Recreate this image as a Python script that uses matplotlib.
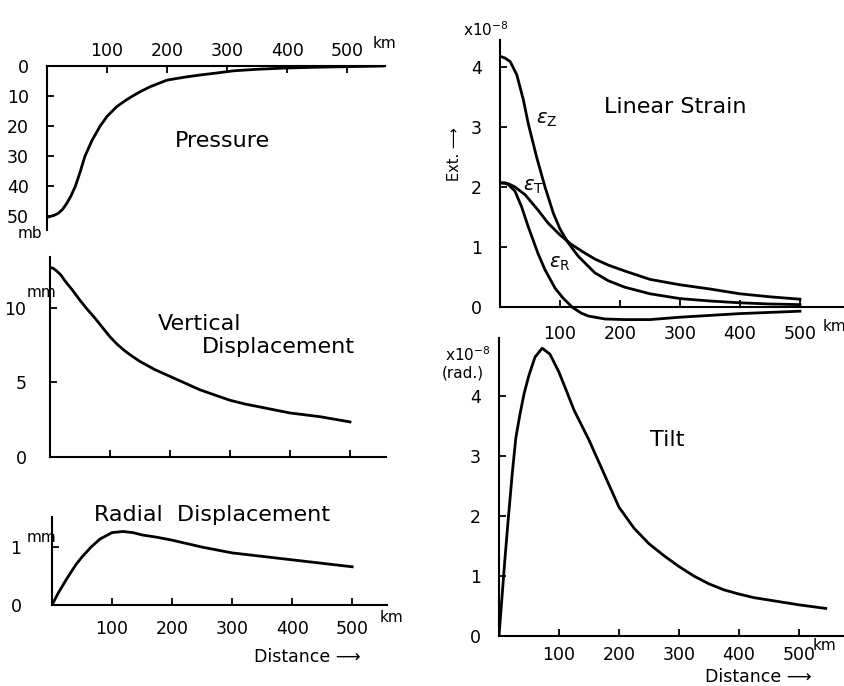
import numpy as np
import matplotlib
matplotlib.use('Agg')
import matplotlib.pyplot as plt

# ==========================================
# 1. DATA
# ==========================================
# Pressure (mb) vs distance (km)
p_km = [0, 5, 12, 19, 26, 33, 40, 47, 55, 63, 75, 88, 100, 116, 130, 141, 155,
        172, 200, 230, 255, 280, 311, 350, 394, 440, 477, 520, 560]
p_mb = [50.5, 50.2, 49.8, 49.1, 47.8, 45.8, 43.3, 40.2, 35.5, 30.2, 24.8, 20.2,
        16.8, 13.6, 11.6, 10.2, 8.6, 6.9, 4.7, 3.7, 3.0, 2.4, 1.6, 1.1, 0.7,
        0.45, 0.3, 0.15, 0.0]

# Vertical displacement (mm)
v_km = [0, 5, 10, 18, 25, 37, 50, 62, 75, 88, 100, 112, 125, 137, 150, 175, 200,
        225, 250, 275, 300, 325, 350, 375, 400, 450, 500]
v_mm = [12.7, 12.65, 12.5, 12.2, 11.8, 11.2, 10.5, 9.9, 9.3, 8.65, 8.05, 7.55,
        7.1, 6.75, 6.4, 5.85, 5.4, 4.95, 4.5, 4.15, 3.8, 3.55, 3.35, 3.15, 2.95,
        2.7, 2.35]

# Radial displacement (mm)
r_km = [0, 5, 10, 25, 40, 50, 65, 80, 100, 118, 135, 150, 175, 200, 250, 300,
        350, 400, 450, 500]
r_mm = [0, 0.1, 0.2, 0.46, 0.7, 0.83, 1.0, 1.14, 1.25, 1.27, 1.25, 1.21, 1.17,
        1.12, 1.0, 0.9, 0.84, 0.78, 0.72, 0.66]

# Linear strain (x1e-8)
ez_km = [0, 8, 17, 28, 39, 47, 61, 75, 89, 100, 113, 130, 158, 180, 208, 250,
         300, 350, 400, 450, 500]
ez = [4.18, 4.15, 4.09, 3.87, 3.45, 3.06, 2.5, 2.0, 1.56, 1.3, 1.08, 0.85, 0.57,
      0.44, 0.33, 0.22, 0.14, 0.1, 0.07, 0.05, 0.04]

et_km = [0, 8, 15, 25, 42, 63, 80, 100, 118, 138, 158, 180, 208, 250, 300, 350,
         400, 450, 500]
et = [2.07, 2.07, 2.05, 2.0, 1.87, 1.62, 1.4, 1.2, 1.05, 0.92, 0.8, 0.7, 0.6,
      0.46, 0.37, 0.3, 0.22, 0.17, 0.13]

er_km = [0, 8, 14, 25, 36, 47, 63, 75, 92, 105, 120, 135, 147, 175, 208, 250,
         300, 350, 400, 450, 500]
er = [2.07, 2.06, 2.04, 1.93, 1.67, 1.34, 0.9, 0.62, 0.31, 0.15, 0.0, -0.1,
      -0.15, -0.2, -0.21, -0.21, -0.17, -0.14, -0.11, -0.09, -0.07]

# Tilt (x1e-8 rad)
t_km = [0, 5, 10, 15, 22, 28, 35, 42, 50, 60, 72, 85, 100, 112, 125, 150, 175,
        200, 225, 250, 275, 300, 325, 350, 375, 400, 425, 450, 475, 500, 545]
tilt = [0, 0.65, 1.3, 1.9, 2.7, 3.3, 3.7, 4.05, 4.35, 4.65, 4.8, 4.7, 4.4, 4.1,
        3.77, 3.27, 2.71, 2.15, 1.8, 1.54, 1.34, 1.16, 1.0, 0.87, 0.77, 0.7,
        0.64, 0.6, 0.56, 0.52, 0.46]

dist_ticks = [100, 200, 300, 400, 500]

# ==========================================
# 2. FIGURE / STYLE
# ==========================================
plt.rcParams['font.family'] = 'DejaVu Sans'
plt.rcParams['mathtext.fontset'] = 'dejavusans'
W, H = 845, 686
fig = plt.figure(figsize=(W / 100, H / 100), dpi=100)

LW = 2.0
TICK_FS = 12.5
TITLE_FS = 16
SMALL_FS = 11


def make_ax(left, right, top, bottom):
    # pixel box -> figure fraction
    return fig.add_axes([left / W, (H - bottom) / H, (right - left) / W, (bottom - top) / H])


def style(ax, xside='bottom'):
    for s in ['top', 'right', 'bottom', 'left']:
        ax.spines[s].set_visible(s in ('left', xside))
        ax.spines[s].set_linewidth(1.5)
    ax.tick_params(direction='in', length=5, width=1.3, labelsize=TICK_FS)
    ax.patch.set_alpha(0)


# ==========================================
# 3. PRESSURE
# ==========================================
ax1 = make_ax(47, 385, 66, 230)
style(ax1, 'top')
ax1.plot(p_km, p_mb, 'k-', lw=LW)
ax1.set_xlim(0, 563)
ax1.set_ylim(54.7, 0)
ax1.xaxis.tick_top()
ax1.set_xticks(dist_ticks)
ax1.tick_params(axis='x', pad=4)
ax1.tick_params(axis='y', pad=13)
ax1.set_yticks([0, 10, 20, 30, 40, 50])
ax1.text(292, 25, 'Pressure', fontsize=TITLE_FS, ha='center', va='center')
ax1.text(543, -7.5, 'km', fontsize=SMALL_FS, ha='left', va='center')
ax1.text(-28, 55.8, 'mb', fontsize=SMALL_FS, ha='center', va='center')

# ==========================================
# 4. VERTICAL DISPLACEMENT
# ==========================================
ax2 = make_ax(50, 386, 257, 457)
style(ax2)
ax2.plot(v_km, v_mm, 'k-', lw=LW)
ax2.set_xlim(0, 560)
ax2.set_ylim(0, 13.4)
ax2.set_xticks(dist_ticks)
ax2.set_xticklabels([])
ax2.set_yticks([0, 5, 10])
ax2.tick_params(axis='y', pad=17)
ax2.text(180, 8.9, 'Vertical', fontsize=TITLE_FS, ha='left', va='center')
ax2.text(253, 7.35, 'Displacement', fontsize=TITLE_FS, ha='left', va='center')
ax2.text(-15, 11.0, 'mm', fontsize=SMALL_FS, ha='center', va='center')

# ==========================================
# 5. RADIAL DISPLACEMENT
# ==========================================
ax3 = make_ax(52, 387, 517, 605)
style(ax3)
ax3.plot(r_km, r_mm, 'k-', lw=LW)
ax3.set_xlim(0, 558)
ax3.set_ylim(0, 1.52)
ax3.set_xticks(dist_ticks)
ax3.set_yticks([0, 1])
ax3.tick_params(axis='x', pad=11)
ax3.tick_params(axis='y', pad=22)
ax3.text(267, 1.55, 'Radial  Displacement', fontsize=TITLE_FS, ha='center', va='center')
ax3.text(-18, 1.16, 'mm', fontsize=SMALL_FS, ha='center', va='center')
ax3.text(546, -0.22, 'km', fontsize=SMALL_FS, ha='left', va='center')
ax3.text(425, -0.9, 'Distance \u27f6', fontsize=12.5, ha='center', va='center')

# ==========================================
# 6. LINEAR STRAIN
# ==========================================
ax4 = make_ax(500, 845, 40, 328)
style(ax4)
ax4.plot(ez_km, ez, 'k-', lw=LW)
ax4.plot(et_km, et, 'k-', lw=LW)
ax4.plot(er_km, er, 'k-', lw=LW)
ax4.set_xlim(0, 575)
ax4.set_ylim(-0.35, 4.45)
ax4.spines['bottom'].set_position(('data', 0))
ax4.spines['left'].set_bounds(0, 4.45)
ax4.set_xticks(dist_ticks)
ax4.set_yticks([0, 1, 2, 3, 4])
ax4.tick_params(axis='x', pad=13)
ax4.tick_params(axis='y', pad=13)
ax4.text(292, 3.33, 'Linear Strain', fontsize=TITLE_FS, ha='center', va='center')
ax4.text(77, 3.13, r'$\epsilon_{\rm Z}$', fontsize=14, ha='center', va='center')
ax4.text(56, 2.0, r'$\epsilon_{\rm T}$', fontsize=14, ha='center', va='center')
ax4.text(99, 0.72, r'$\epsilon_{\rm R}$', fontsize=14, ha='center', va='center')
ax4.text(-62, 4.62, r'x10$^{-8}$', fontsize=SMALL_FS, ha='left', va='center')
ax4.text(-75, 2.55, 'Ext. \u27f6', fontsize=10.5, rotation=90, ha='center', va='center')
ax4.text(537, -0.33, 'km', fontsize=SMALL_FS, ha='left', va='center', clip_on=False)

# ==========================================
# 7. TILT
# ==========================================
ax5 = make_ax(499, 845, 338, 636)
style(ax5)
ax5.plot(t_km, tilt, 'k-', lw=LW)
ax5.set_xlim(0, 577)
ax5.set_ylim(0, 4.97)
ax5.set_xticks(dist_ticks)
ax5.set_yticks([0, 1, 2, 3, 4])
ax5.tick_params(axis='x', pad=7)
ax5.tick_params(axis='y', pad=13)
ax5.text(280, 3.27, 'Tilt', fontsize=TITLE_FS, ha='center', va='center')
ax5.text(-90, 4.7, r'x10$^{-8}$', fontsize=SMALL_FS, ha='left', va='center')
ax5.text(-60, 4.38, '(rad.)', fontsize=SMALL_FS, ha='center', va='center')
ax5.text(523, -0.16, 'km', fontsize=SMALL_FS, ha='left', va='center')
ax5.text(432, -0.68, 'Distance \u27f6', fontsize=12.5, ha='center', va='center')

fig.savefig('out.png', dpi=100, facecolor='white')
